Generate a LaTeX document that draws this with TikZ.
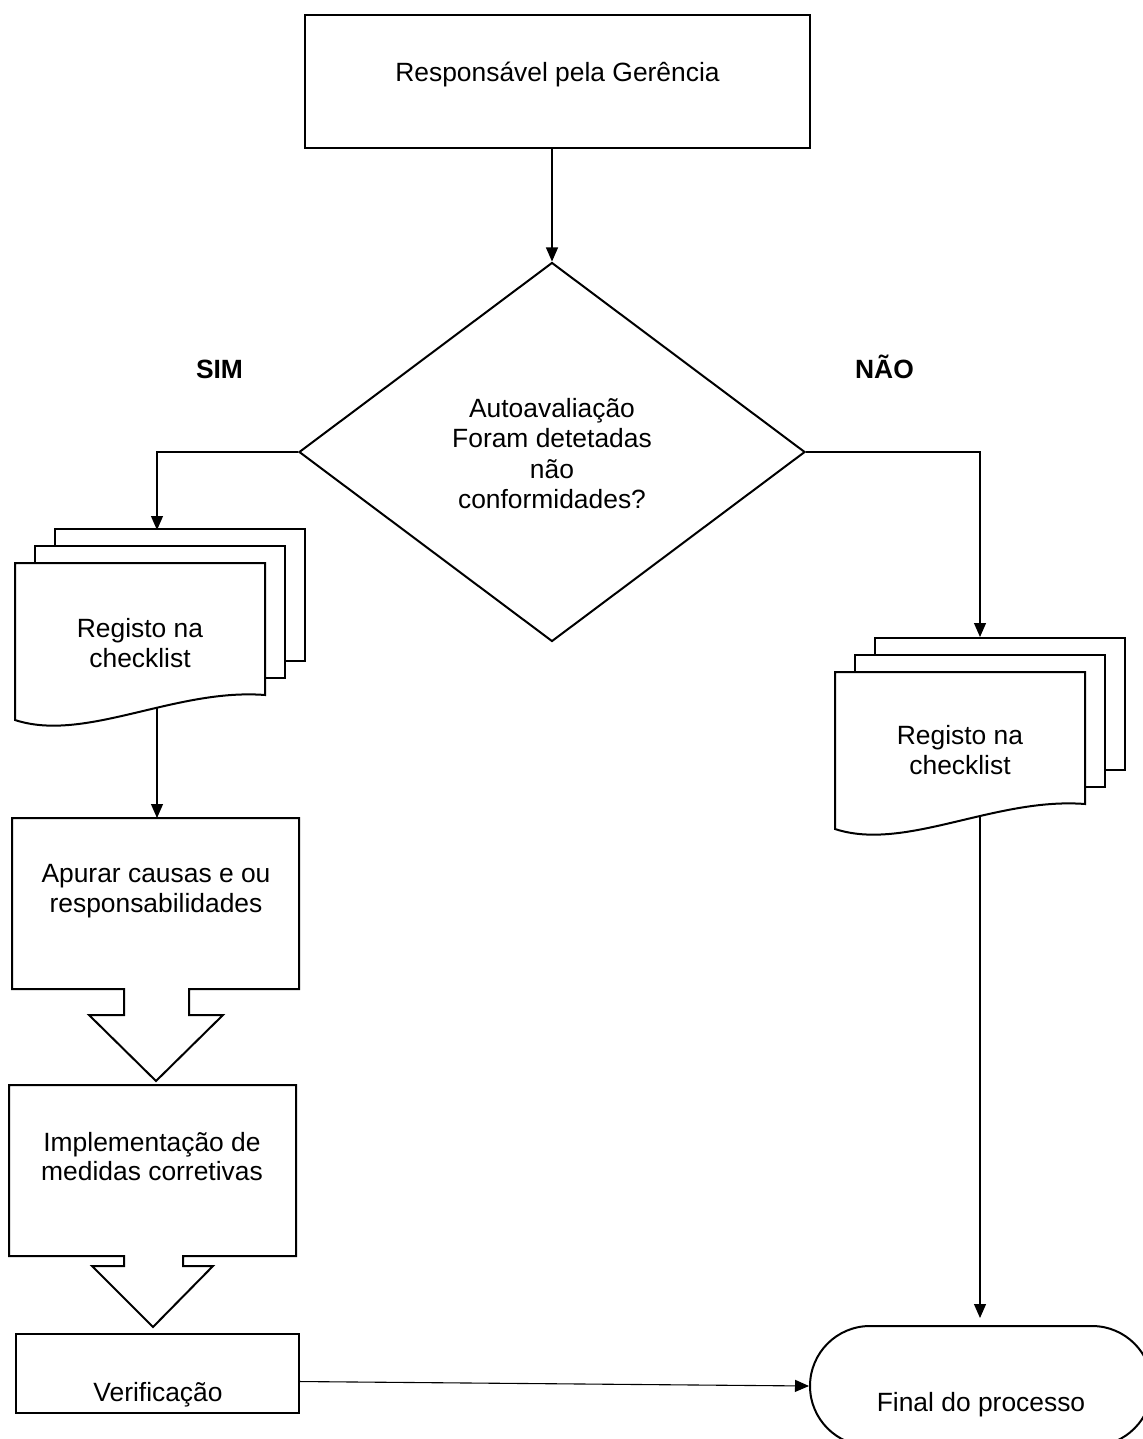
\documentclass[tikz,border=0pt]{standalone}
\usepackage{fontspec}
\setmainfont{Liberation Sans}
\usetikzlibrary{shapes.geometric,arrows.meta,calc}

\begin{document}
\begin{tikzpicture}[x=0.5pt,y=-0.5pt,
  every node/.style={font=\fontsize{13.2}{15}\selectfont},
  lbl/.style={anchor=base,align=center,inner sep=0pt},
  thickshape/.style={draw=black,line width=1pt,fill=white,line join=miter},
  thinshape/.style={draw=black,line width=0.6pt,fill=white},
  conn/.style={draw=black,line width=0.55pt,-{Triangle[length=7pt,width=6pt]}},
  pics/docstack/.style={code={
    % two sheets behind the front one
    \draw[thickshape] (40,-34) rectangle (290,98);
    \draw[thickshape] (20,-17) rectangle (270,115);
    % front sheet with wavy bottom edge
    \draw[thickshape] (0,0) -- (250,0) -- (250,132)
      .. controls (160,125) and (70,180) .. (0,157) -- cycle;
  }}]

\clip (0,0) rectangle (1143,1439);
\fill[white] (0,0) rectangle (1143,1439);

% start
\node[thinshape,minimum width=252.5pt,minimum height=66.5pt,inner sep=0pt] (top) at (557.5,81.5) {};
\node[lbl] (toptext) at (557.5,82) {Responsável pela Gerência};

% decision (multi-line labels are placed by the baseline of their last line)
\node[diamond,thickshape,minimum width=253pt,minimum height=189.5pt,inner sep=0pt] (dec) at (552,452) {};
\node[lbl,font=\fontsize{13.2}{15.25}\selectfont] (dectext) at (552,508.5)
  {Autoavaliação\\Foram detetadas\\não\\conformidades?};

\node[lbl,font=\fontsize{13.2}{15}\selectfont\bfseries] (sim) at (219.5,378) {SIM};
\node[lbl,font=\fontsize{13.2}{15}\selectfont\bfseries] (nao) at (884.5,378) {NÃO};

% left branch: record in checklist
\pic at (15,563) {docstack};
\coordinate (lin) at (157,530);
\coordinate (lout) at (157,708);
\node[lbl] (ldoc) at (140,667) {Registo na\\checklist};

% right branch: record in checklist
\pic at (835,672) {docstack};
\coordinate (rin) at (980,637);
\coordinate (rout) at (980,817);
\node[lbl] (rdoc) at (960,774) {Registo na\\checklist};

% causes box with block arrow
\draw[thickshape] (12,818) -- (299,818) -- (299,989) -- (189,989) -- (189,1015)
  -- (223,1015) -- (156,1081) -- (89,1015) -- (124,1015) -- (124,989)
  -- (12,989) -- cycle;
\coordinate (apin) at (157,818);
\node[lbl,font=\fontsize{13.2}{15}\selectfont] (apurar) at (156,912) {Apurar causas e ou\\responsabilidades};

% corrective measures box with block arrow
\draw[thickshape] (9,1085) -- (296,1085) -- (296,1256) -- (183,1256) -- (183,1266)
  -- (213,1266) -- (153,1327) -- (92,1266) -- (124,1266) -- (124,1256)
  -- (9,1256) -- cycle;
\node[lbl,font=\fontsize{13.2}{14.2}\selectfont] (impl) at (152,1180) {Implementação de\\medidas corretivas};

% verification
\node[thinshape,minimum width=141.5pt,minimum height=39.5pt,inner sep=0pt] (verif) at (157.5,1373.5) {};
\node[lbl] (veriftext) at (158,1401) {Verificação};

% end terminal
\node[thickshape,rectangle,rounded corners=30pt,minimum width=171pt,minimum height=60pt,inner sep=0pt] (final) at (981,1386) {};
\node[lbl] (finaltext) at (981,1411) {Final do processo};

% connectors
\draw[conn] (top.south -| dec.north) -- (dec.north);
\draw[conn] (dec.west) -| (lin);
\draw[conn] (dec.east) -| (rin);
\draw[conn] (lout) -- (apin);
\draw[conn,shorten >=3.5pt] (rout) -- (rout |- final.north);
\draw[conn] ($(verif.north east)!0.6!(verif.south east)$) -- (final.west);

\end{tikzpicture}
\end{document}
